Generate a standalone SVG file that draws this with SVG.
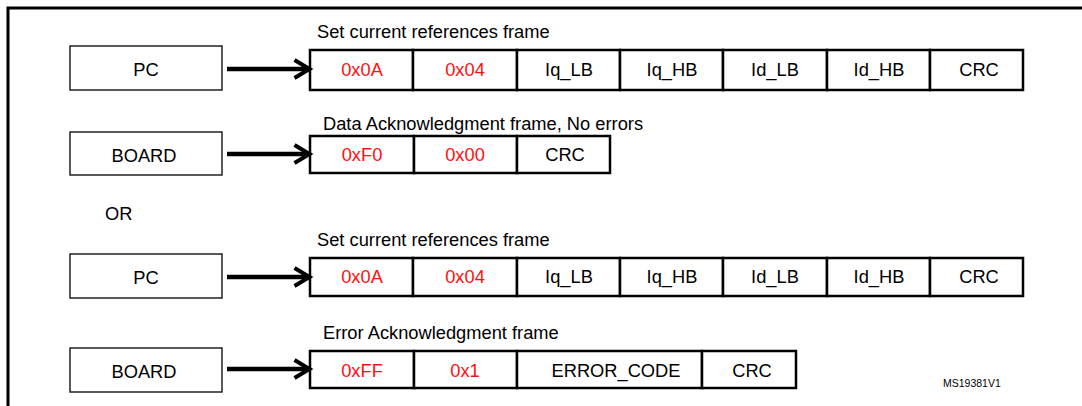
<svg xmlns="http://www.w3.org/2000/svg" width="1082" height="406" viewBox="0 0 1082 406">
<style>
  text { font-family: "Liberation Sans", Arial, sans-serif; font-size: 18.3px; fill: #000; }
  .c { text-anchor: middle; }
  .red { fill: #ff1010; }
  .node { fill: #fff; stroke: #222; stroke-width: 1.5; }
  .cell { fill: #fff; stroke: #000; stroke-width: 2.5; }
  .conn { stroke: #000; stroke-width: 4.5; fill: none; }
  .small { font-size: 10.5px; }
</style>
<defs>
  <marker id="arr" markerUnits="userSpaceOnUse" markerWidth="24" markerHeight="26" viewBox="-3 -3 24 26" refX="11.5" refY="9" orient="auto">
    <path d="M0,0 L15,9 L0,18" fill="none" stroke="#000" stroke-width="4"/>
  </marker>
</defs>
<rect width="1082" height="406" fill="#fff"/>
<!-- outer frame -->
<path d="M8,406 V8 H1082" fill="none" stroke="#000" stroke-width="3"/>

<g id="pc1">
  <rect class="node" x="70" y="46" width="152" height="44"/>
  <text class="c" x="146" y="76">PC</text>
</g>
<g id="board1">
  <rect class="node" x="70" y="132" width="152" height="43"/>
  <text class="c" x="144" y="162">BOARD</text>
</g>
<g id="pc2">
  <rect class="node" x="70" y="254" width="152" height="44"/>
  <text class="c" x="146" y="284">PC</text>
</g>
<g id="board2">
  <rect class="node" x="70" y="348" width="152" height="44"/>
  <text class="c" x="144" y="378">BOARD</text>
</g>

<g id="frame1">
  <text x="317" y="38">Set current references frame</text>
  <rect class="cell" x="310" y="50" width="103" height="40"/>
  <rect class="cell" x="413" y="50" width="104" height="40"/>
  <rect class="cell" x="517" y="50" width="103" height="40"/>
  <rect class="cell" x="620" y="50" width="103" height="40"/>
  <rect class="cell" x="723" y="50" width="104" height="40"/>
  <rect class="cell" x="827" y="50" width="103" height="40"/>
  <rect class="cell" x="930" y="50" width="93" height="40"/>
  <text class="c red" x="362" y="76">0x0A</text>
  <text class="c red" x="465" y="76">0x04</text>
  <text class="c" x="569" y="76">Iq_LB</text>
  <text class="c" x="672" y="76">Iq_HB</text>
  <text class="c" x="775" y="76">Id_LB</text>
  <text class="c" x="879" y="76">Id_HB</text>
  <text class="c" x="979" y="76">CRC</text>
</g>

<g id="frame2">
  <text x="323" y="130">Data Acknowledgment frame, No errors</text>
  <rect class="cell" x="310" y="136" width="104" height="37"/>
  <rect class="cell" x="414" y="136" width="103" height="37"/>
  <rect class="cell" x="517" y="136" width="93" height="37"/>
  <text class="c red" x="362" y="161">0xF0</text>
  <text class="c red" x="465" y="161">0x00</text>
  <text class="c" x="565" y="161">CRC</text>
</g>

<text id="or" x="105" y="220">OR</text>

<g id="frame3">
  <text x="317" y="246">Set current references frame</text>
  <rect class="cell" x="310" y="258" width="103" height="38"/>
  <rect class="cell" x="413" y="258" width="104" height="38"/>
  <rect class="cell" x="517" y="258" width="103" height="38"/>
  <rect class="cell" x="620" y="258" width="103" height="38"/>
  <rect class="cell" x="723" y="258" width="104" height="38"/>
  <rect class="cell" x="827" y="258" width="103" height="38"/>
  <rect class="cell" x="930" y="258" width="93" height="38"/>
  <text class="c red" x="362" y="283">0x0A</text>
  <text class="c red" x="465" y="283">0x04</text>
  <text class="c" x="569" y="283">Iq_LB</text>
  <text class="c" x="672" y="283">Iq_HB</text>
  <text class="c" x="775" y="283">Id_LB</text>
  <text class="c" x="879" y="283">Id_HB</text>
  <text class="c" x="979" y="283">CRC</text>
</g>

<g id="frame4">
  <text x="323" y="339">Error Acknowledgment frame</text>
  <rect class="cell" x="310" y="351" width="104" height="37"/>
  <rect class="cell" x="414" y="351" width="103" height="37"/>
  <rect class="cell" x="517" y="351" width="185" height="37"/>
  <rect class="cell" x="702" y="351" width="94" height="37"/>
  <text class="c red" x="362" y="377">0xFF</text>
  <text class="c red" x="465" y="377">0x1</text>
  <text class="c" x="616" y="377">ERROR_CODE</text>
  <text class="c" x="752" y="377">CRC</text>
</g>

<text class="small" x="943" y="387">MS19381V1</text>

<g id="connectors">
  <line class="conn" x1="227" y1="69" x2="306" y2="69" marker-end="url(#arr)"/>
  <line class="conn" x1="227" y1="154" x2="306" y2="154" marker-end="url(#arr)"/>
  <line class="conn" x1="227" y1="277" x2="306" y2="277" marker-end="url(#arr)"/>
  <line class="conn" x1="227" y1="369" x2="306" y2="369" marker-end="url(#arr)"/>
</g>
</svg>
